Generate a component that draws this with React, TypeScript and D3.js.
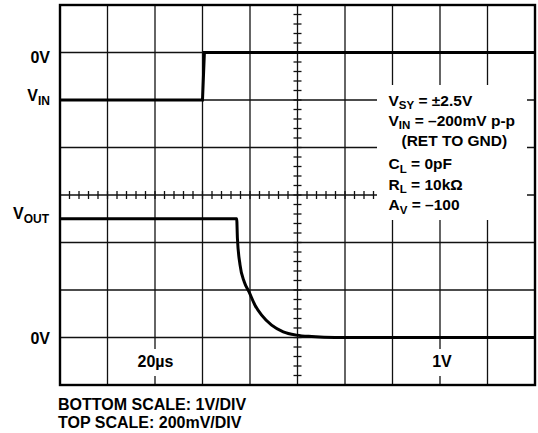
import React from 'react';
import * as d3 from 'd3';

// Time axis (µs), 20 µs/div, 10 divisions
const timeDomain = [0, 200];
const timeGrid = d3.range(0, 201, 20);
// Vertical divisions (bottom scale 1 V/div, 0 V one division above bottom)
const voutDomain = [-1, 7];
const voutGrid = d3.range(-1, 8, 1);
// Top scale 200 mV/div, 0 V one division below top
const vinDomain = [-1400, 200];

// V_IN trace (mV)
const vinTime = [0, 60, 60.8, 200];
const vinMv = [-200, -200, 0, 0];

// V_OUT trace (V)
const voutTime = [0, 74.4, 74.7, 75.8, 77.6, 79.6, 82.1, 84.9, 89.1, 94.0, 99.7, 106.0, 115.8, 200];
const voutV = [2.5, 2.5, 2.09, 1.53, 1.17, 0.96, 0.68, 0.47, 0.26, 0.12, 0.05, 0.02, 0, 0];

const boxLines = [
  { main: 'V', sub: 'SY', rest: ' = ±2.5V' },
  { main: 'V', sub: 'IN', rest: ' = –200mV p-p' },
  { main: '', sub: '', rest: '(RET TO GND)' },
  { main: 'C', sub: 'L', rest: ' = 0pF' },
  { main: 'R', sub: 'L', rest: ' = 10kΩ' },
  { main: 'A', sub: 'V', rest: ' = –100' },
];
const scaleNotes = ['BOTTOM SCALE: 1V/DIV', 'TOP SCALE: 200mV/DIV'];

const W = 538;
const H = 433;
const L = 60, R = 535, T = 5, B = 385;
const FONT = '"Liberation Sans", Arial, Helvetica, sans-serif';

export default function App() {
  const x = d3.scaleLinear().domain(timeDomain).range([L, R]);
  const yOut = d3.scaleLinear().domain(voutDomain).range([B, T]);
  const yIn = d3.scaleLinear().domain(vinDomain).range([B, T]);

  const cx = x(100);
  const cy = yOut(3);

  const vinPts = vinTime.map((t, i) => [t, vinMv[i]] as [number, number]);
  const voutPts = voutTime.map((t, i) => [t, voutV[i]] as [number, number]);
  const vinLine = d3.line<[number, number]>().x(d => x(d[0])).y(d => yIn(d[1]))(vinPts) || '';
  const voutLine = d3
    .line<[number, number]>()
    .x(d => x(d[0]))
    .y(d => yOut(d[1]))
    .curve(d3.curveMonotoneX)(voutPts) || '';

  const minorT = d3.range(0, 200.01, 4);
  const minorV = d3.range(-1, 7.01, 0.2);

  const boxBase = [105.7, 125.7, 145.7, 169, 189.5, 210];

  return (
    <svg
      width={W}
      height={H}
      style={{ position: 'absolute', left: 0, top: 0, background: '#fff' }}
      fontFamily={FONT}
      fontWeight="bold"
    >
      <rect x={0} y={0} width={W} height={H} fill="#fff" />
      {/* grid */}
      <g stroke="#111" strokeWidth={1.3}>
        {timeGrid.map(t => (
          <line key={'v' + t} x1={x(t)} x2={x(t)} y1={T} y2={B} />
        ))}
        {voutGrid.map(v => (
          <line key={'h' + v} x1={L} x2={R} y1={yOut(v)} y2={yOut(v)} />
        ))}
        {minorT.map((t, i) => (
          <line key={'mt' + i} x1={x(t)} x2={x(t)} y1={cy - 4} y2={cy + 4} />
        ))}
        {minorV.map((v, i) => (
          <line key={'mv' + i} x1={cx - 4} x2={cx + 4} y1={yOut(v)} y2={yOut(v)} />
        ))}
      </g>
      {/* white patches behind labels */}
      <rect x={377} y={85} width={150} height={135} fill="#fff" />
      <rect x={135} y={349} width={40} height={27} fill="#fff" />
      <rect x={425} y={349} width={30} height={27} fill="#fff" />
      {/* border */}
      <rect x={L} y={T} width={R - L} height={B - T} fill="none" stroke="#000" strokeWidth={2.4} />
      {/* traces */}
      <path d={vinLine} fill="none" stroke="#000" strokeWidth={3} strokeLinejoin="miter" />
      <path d={voutLine} fill="none" stroke="#000" strokeWidth={3} />

      {/* left labels */}
      <g fontSize={16} textAnchor="end" fill="#000">
        <text x={50} y={yIn(0) + 10.5}>0V</text>
        <text x={50} y={yIn(-200) + 0.5}>
          V<tspan fontSize={12} dy={4}>IN</tspan>
        </text>
        <text x={49} y={218.5}>
          V<tspan fontSize={12} dy={4}>OUT</tspan>
        </text>
        <text x={50} y={yOut(0) + 6.5}>0V</text>
      </g>

      {/* division labels */}
      <g fontSize={16} textAnchor="middle" fill="#000">
        <text x={x(40) + 0.5} y={366.7}>20µs</text>
        <text x={x(160) + 2} y={366.7}>1V</text>
      </g>

      {/* conditions box */}
      <g fontSize={15.5} fill="#000">
        {boxLines.map((ln, i) => (
          <text key={i} x={ln.main ? 388.5 : 401.5} y={boxBase[i]}>
            {ln.main}
            {ln.sub && (
              <tspan fontSize={11.5} dy={3.5}>
                {ln.sub}
              </tspan>
            )}
            <tspan dy={ln.sub ? -3.5 : 0}>{ln.rest}</tspan>
          </text>
        ))}
      </g>

      {/* scale notes */}
      <g fontSize={16} fill="#000">
        <text x={58} y={409.7}>{scaleNotes[0]}</text>
        <text x={58} y={428}>{scaleNotes[1]}</text>
      </g>
    </svg>
  );
}
